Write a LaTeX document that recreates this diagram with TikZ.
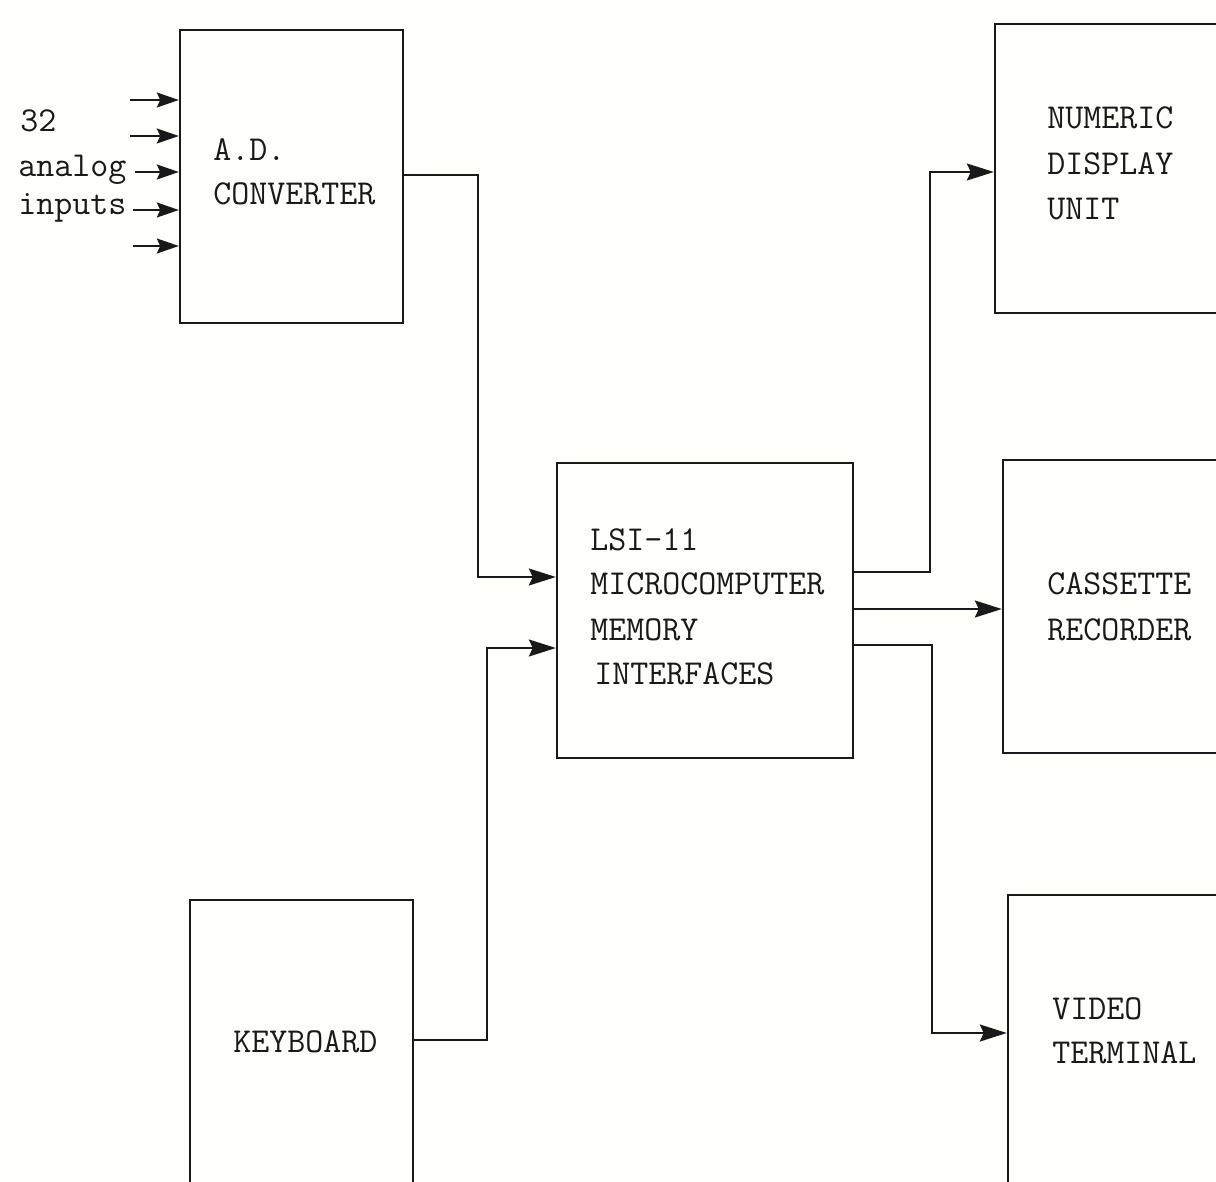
\documentclass[tikz,border=0pt]{standalone}
\usetikzlibrary{arrows.meta}
\definecolor{paper}{RGB}{254,254,250}
\definecolor{ink}{RGB}{25,25,25}
\begin{document}
\begin{tikzpicture}[x=0.02cm,y=-0.02cm,
  box/.style={draw=ink,line width=1.4pt,inner sep=0pt},
  conn/.style={draw=ink,line width=1.1pt,-{Stealth[length=0.54cm,width=0.34cm,inset=0.08cm]}},
  inarrow/.style={draw=ink,line width=1.1pt,-{Stealth[length=0.44cm,width=0.3cm,inset=0.07cm]}},
  lbl/.style={anchor=base west,inner sep=0pt,text=ink,font=\ttfamily\fontsize{19.9}{25}\selectfont}]
\fill[paper] (0,0) rectangle (1216,1182);
\useasboundingbox (0,0) rectangle (1216,1182);
\clip (0,0) rectangle (1216,1182);
% boxes
\node[box,minimum width=4.46cm,minimum height=5.86cm] (ad) at (291.5,176.5) {};
\node[box,minimum width=4.9cm,minimum height=5.78cm] (num) at (1117.5,168.5) {};
\node[box,minimum width=4.74cm,minimum height=5.86cm] (cas) at (1121.5,606.5) {};
\node[box,minimum width=4.64cm,minimum height=6.3cm] (vid) at (1124,1052.5) {};
\node[box,minimum width=4.46cm,minimum height=6.2cm] (kb) at (301.5,1055) {};
\node[box,minimum width=5.92cm,minimum height=5.9cm] (lsi) at (705,610.5) {};
% texts
\node[lbl] (t32) at (20,132) {32};
\node[lbl] (tanalog) at (18,177) {analog};
\node[lbl] (tinputs) at (18,215) {inputs};
\node[lbl] (tad1) at (213,161) {A.D.};
\node[lbl] (tad2) at (213,205) {CONVERTER};
\node[lbl] (tnum1) at (1047,129) {NUMERIC};
\node[lbl] (tnum2) at (1047,175) {DISPLAY};
\node[lbl] (tnum3) at (1047,220) {UNIT};
\node[lbl] (tlsi1) at (590,550) {LSI-11};
\node[lbl] (tlsi2) at (590,594) {MICROCOMPUTER};
\node[lbl] (tlsi3) at (590,640) {MEMORY};
\node[lbl] (tlsi4) at (594,684) {INTERFACES};
\node[lbl] (tcas1) at (1047,594) {CASSETTE};
\node[lbl] (tcas2) at (1047,640) {RECORDER};
\node[lbl] (tvid1) at (1052,1019) {VIDEO};
\node[lbl] (tvid2) at (1052,1063) {TERMINAL};
\node[lbl] (tkb) at (233,1052) {KEYBOARD};
% input arrows
\foreach \yy/\xs in {100/130,136/130,172/135,210/133,246/133}
  \draw[inarrow] (\xs,\yy) -- (ad.west |- 0,\yy);
% connectors
\draw[conn] (ad.east |- 0,175) -| (478,577) -- (lsi.west |- 0,577);
\draw[conn] (kb.east |- 0,1040) -| (487,648) -- (lsi.west |- 0,648);
\draw[conn] (lsi.east |- 0,572) -| (930,172) -- (num.west |- 0,172);
\draw[conn] (lsi.east |- 0,609) -- (cas.west |- 0,609);
\draw[conn] (lsi.east |- 0,645) -| (932,1033) -- (vid.west |- 0,1033);
\end{tikzpicture}
\end{document}
